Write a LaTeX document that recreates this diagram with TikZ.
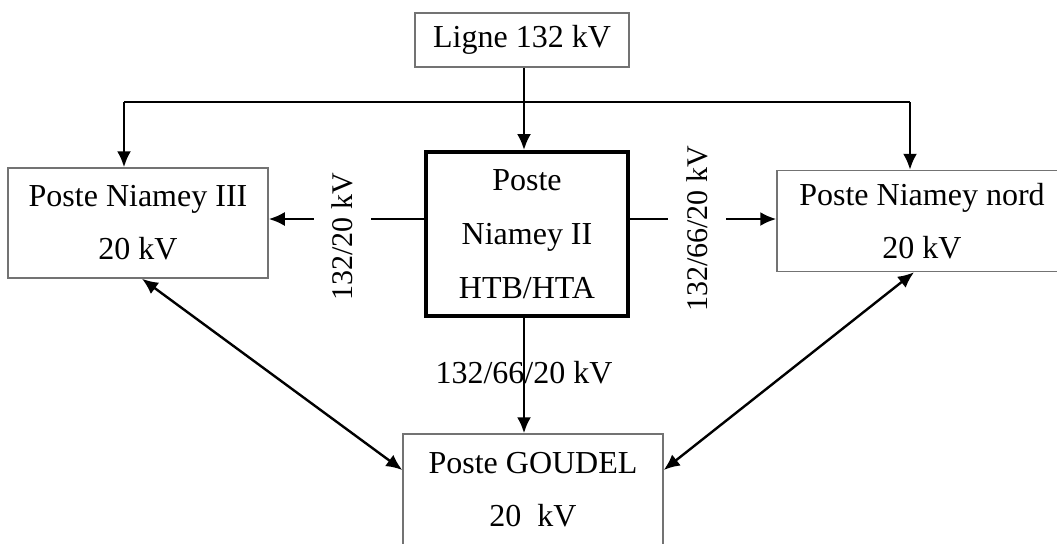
\documentclass[tikz,border=0pt]{standalone}
\usepackage{fontspec}
\setmainfont{Liberation Serif}
\usetikzlibrary{arrows.meta}
\begin{document}
\begin{tikzpicture}[
    x=0.5pt, y=-0.5pt,
    >={Latex[length=8pt,width=7pt]},
    poste/.style={draw=black!55, line width=0.75pt, align=center, inner sep=0pt,
      font=\fontsize{16}{26.5}\selectfont},
    central/.style={draw=black, line width=2pt, align=center, inner sep=0pt,
      font=\fontsize{16}{27}\selectfont},
    link/.style={draw=black, line width=1.2pt},
    volt/.style={font=\fontsize{15}{18}\selectfont, rotate=90, fill=white,
      inner xsep=2pt, inner ysep=9pt}]

    \useasboundingbox (0,0) rectangle (1057,543);

    \node[poste, minimum width=107pt, minimum height=27pt] (ligne) at (522,40) {\raisebox{-2pt}{Ligne 132 kV}};

    \node[central, minimum width=101pt, minimum height=82pt] (poste2) at (527,234)
      {Poste\\Niamey II\\HTB/HTA};

    \node[poste, minimum width=130pt, minimum height=55pt] (niamey3) at (138,223)
      {Poste Niamey III\\20 kV};

    \node[poste, minimum width=145pt, minimum height=50.5pt] (nord) at (922,221)
      {\raisebox{-3pt}{Poste Niamey nord}\\\raisebox{-3pt}{20 kV}};

    \node[poste, minimum width=130pt, minimum height=56pt] (goudel) at (533,490)
      {Poste GOUDEL\\20~~kV};

    \coordinate (busL) at (124,102);
    \coordinate (busR) at (910,102);

    \draw[link, ->] (ligne.south -| 524,0) -- (poste2.north -| 524,0);
    \draw[link] (busL) -- (busR);
    \draw[link, ->] (busL) -- (busL |- niamey3.north);
    \draw[link, ->] (busR) -- (busR |- nord.north);

    \draw[link, ->] (poste2.west |- 0,219) -- node[volt, xshift=-9pt, yshift=2pt] {132/20 kV} (niamey3.east |- 0,219);
    \draw[link, ->] (poste2.east |- 0,219) -- node[volt, xshift=-5pt, yshift=3pt] {132/66/20 kV} (nord.west |- 0,219);

    \draw[link, ->] (poste2.south -| 524,0) -- node[pos=0.47, font=\fontsize{16}{19}\selectfont] {132/66/20 kV}
      (goudel.north -| 524,0);

    \draw[link, <->] ([xshift=2pt]niamey3.south) -- ([yshift=10pt]goudel.west);
    \draw[link, <->] ([xshift=-4pt]nord.south) -- ([yshift=10pt]goudel.east);
  \end{tikzpicture}
\end{document}
